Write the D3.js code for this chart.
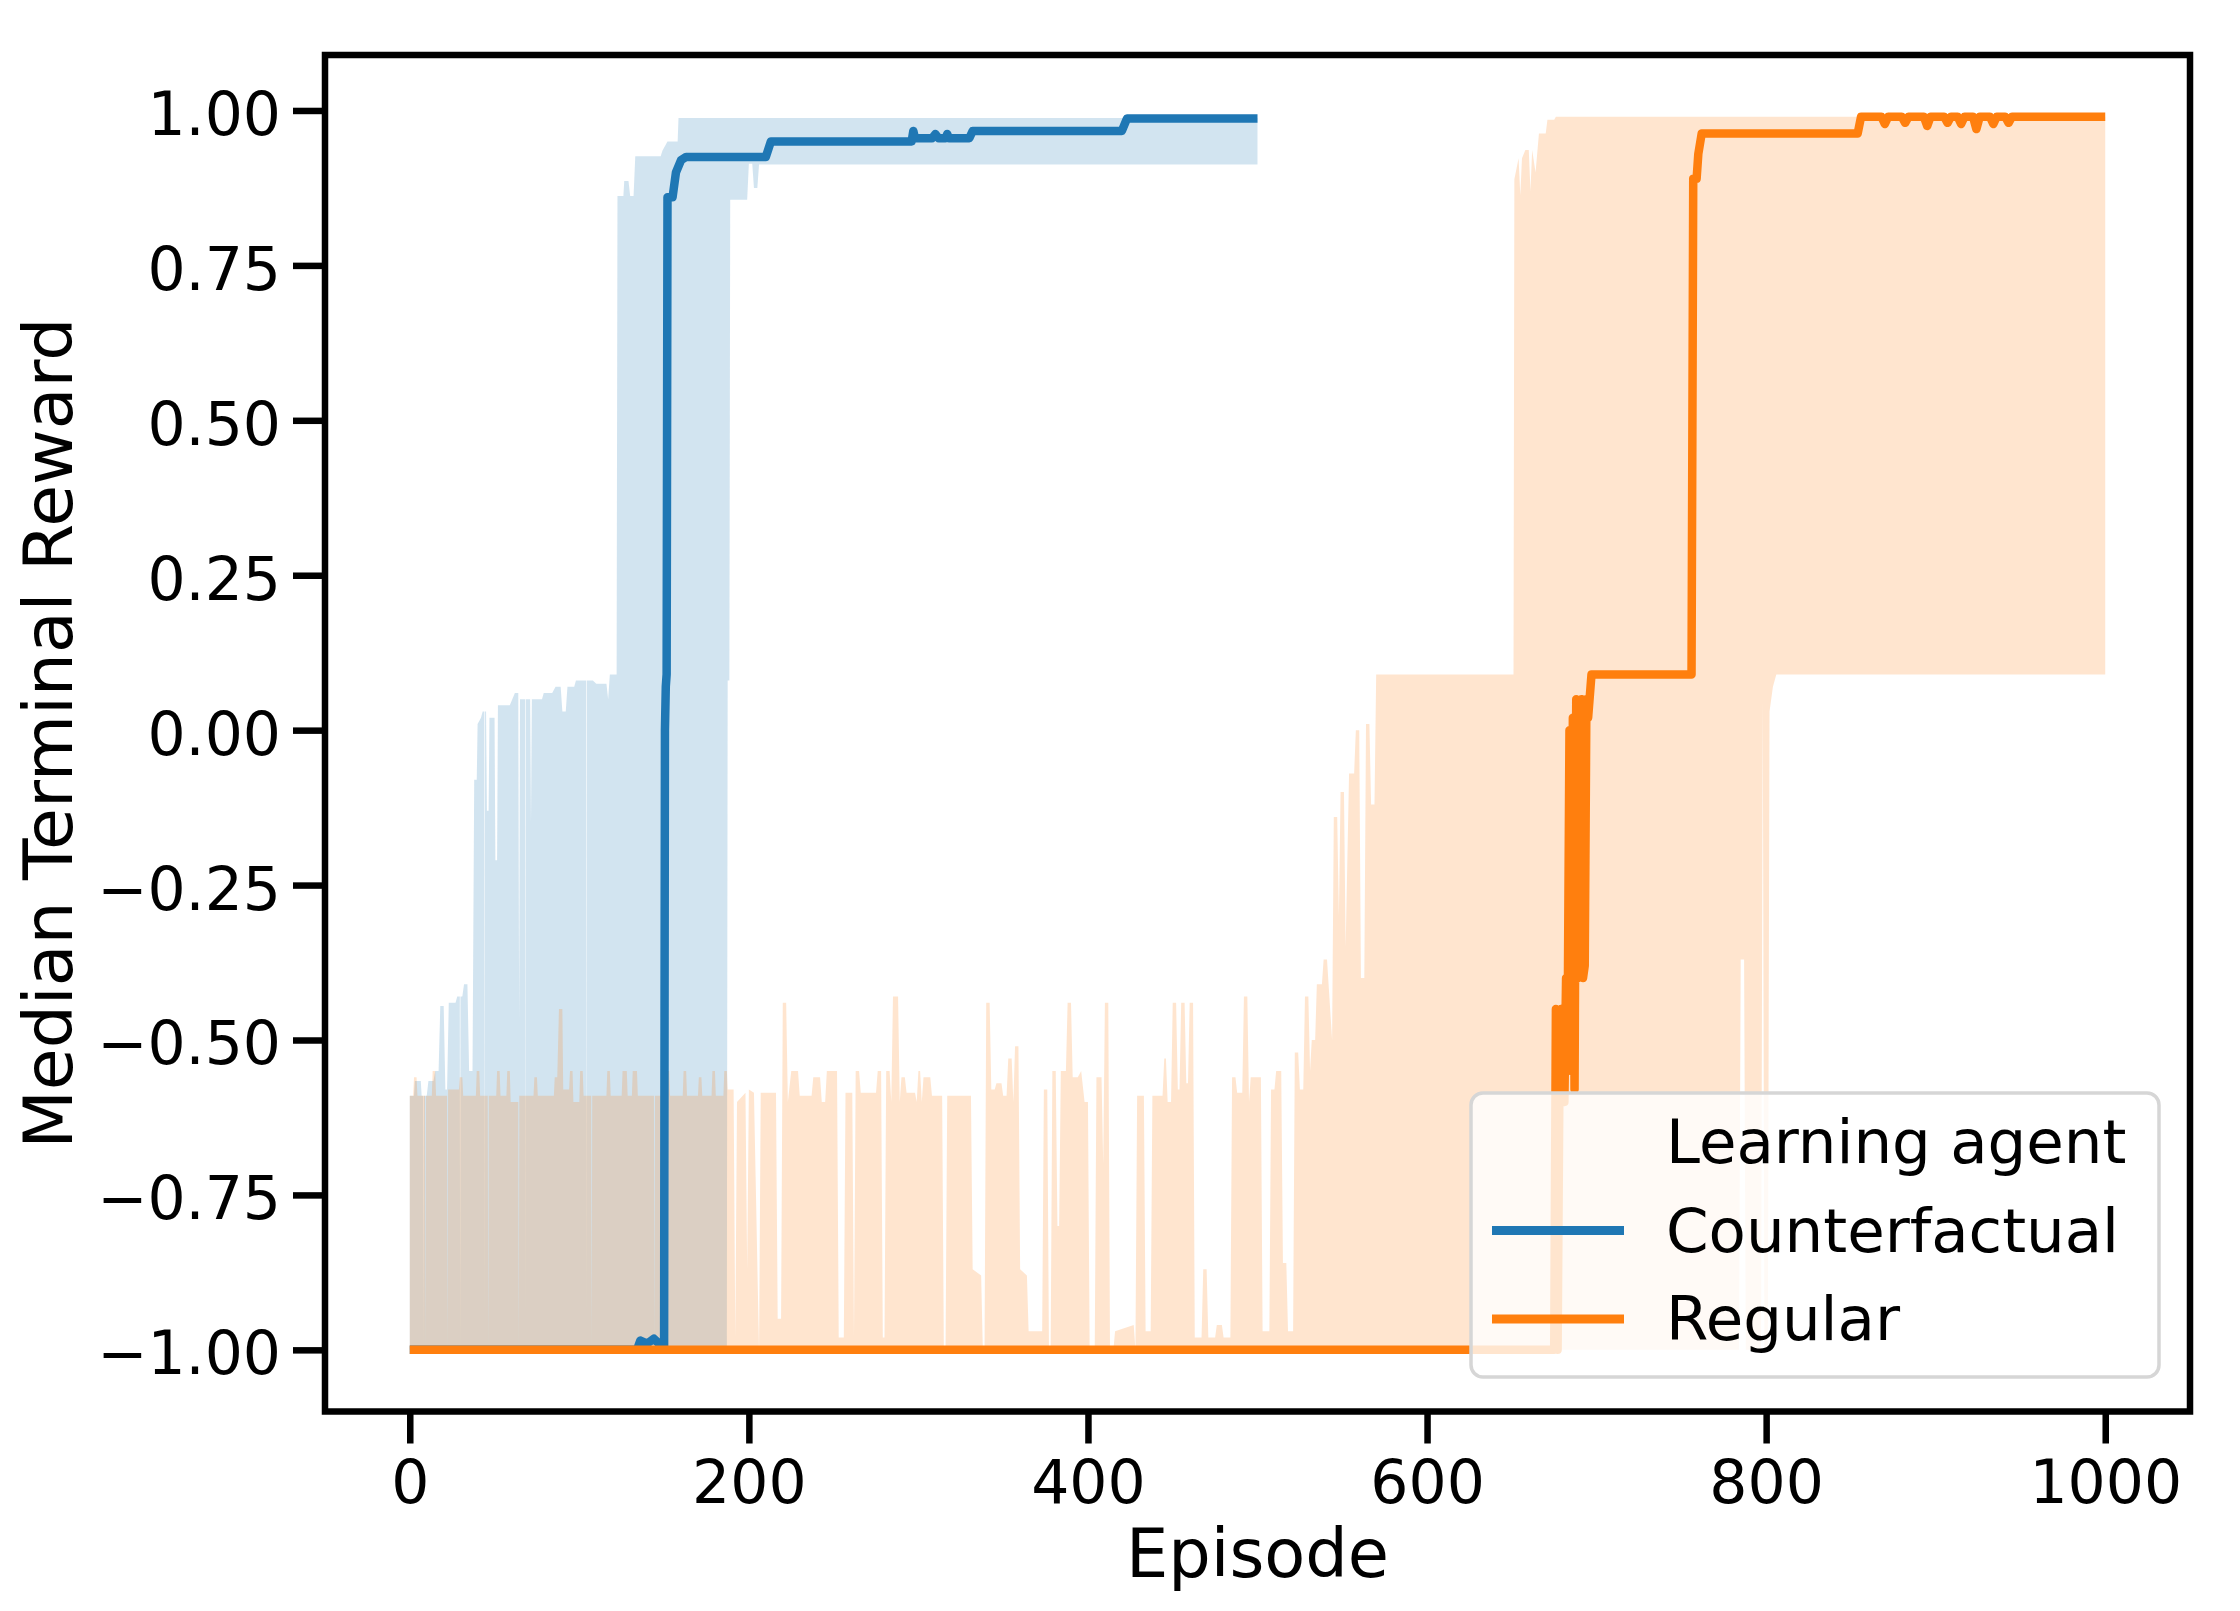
<!DOCTYPE html>
<html>
<head>
<meta charset="utf-8">
<script src="https://cdn.jsdelivr.net/npm/d3@7"></script>
<style>
  body { margin: 0; background: #fff; }
  svg { display: block; font-family: "DejaVu Sans", sans-serif; }
</style>
</head>
<body>
<div id="chart"></div>
<script>
const xTicks = [0, 200, 400, 600, 800, 1000];
const yTicks = [-1, -0.75, -0.5, -0.25, 0, 0.25, 0.5, 0.75, 1];
const legendLabels = ['Learning agent', 'Counterfactual', 'Regular'];
const seriesColors = ['#1f77b4', '#ff7f0e'];

// [episode, median terminal reward]
const cfMedian = [[0,-1],[134,-1],[136,-0.985],[140,-0.99],[144,-0.982],[147,-0.99],[149,-0.99],[150,-1],[150.5,0.0],[151,0.07],[151.5,0.09],[152,0.86],[155,0.86],[157,0.9],[160,0.92],[163,0.925],[210,0.925],[213,0.95],[296,0.95],[297,0.967],[298,0.955],[308,0.955],[310,0.962],[312,0.955],[316,0.955],[317,0.962],[318,0.955],[330,0.955],[332,0.967],[420,0.967],[423,0.987],[500,0.987]];
const cfUpper = [[0,-0.59],[2.5,-0.59],[3,-0.566],[6.5,-0.566],[7,-0.59],[7.8,-0.59],[8,-1],[8.2,-0.59],[10,-0.59],[11,-0.566],[14,-0.566],[15,-0.55],[17,-0.55],[18,-0.445],[20,-0.445],[21,-0.58],[22,-0.58],[23,-0.44],[27,-0.44],[28,-0.43],[29.5,-0.43],[29.7,-1],[29.9,-0.43],[31,-0.43],[32,-0.41],[34,-0.41],[35,-0.55],[37,-0.55],[38,-0.08],[39.5,-0.08],[40,0.01],[42,0.02],[43,0.03],[44,0.03],[44.2,-0.95],[44.4,0.03],[45,0.03],[45.5,-0.13],[46.5,-0.13],[47,0.02],[50,0.02],[50.5,-0.21],[51.5,-0.21],[52,0.04],[59,0.04],[62,0.06],[64,0.06],[64.5,-0.47],[65,0.05],[68,0.05],[68.2,-0.95],[68.4,0.05],[71,0.05],[71.5,-0.15],[72,0.05],[78,0.05],[79,0.06],[84,0.06],[86,0.07],[89,0.07],[90,0.03],[92,0.03],[93,0.07],[97,0.07],[98,0.08],[104,0.08],[104.2,-0.95],[104.4,0.08],[108,0.08],[110,0.075],[116,0.075],[117,0.05],[118,0.09],[122,0.09],[122.5,0.862],[126,0.862],[126.5,0.886],[129,0.886],[130,0.862],[132,0.862],[133,0.926],[148,0.926],[149,0.935],[152,0.95],[158,0.95],[158.5,0.988],[500,0.988]];
const cfLower = [[0,-1],[187,-1],[187.5,0.08],[188.5,0.08],[189,0.856],[199,0.856],[200,0.914],[202,0.914],[203,0.875],[205,0.875],[206,0.913],[500,0.913]];

const regMedian = [[0,-1],[675,-1],[676,-0.45],[677,-1],[678,-0.6],[679,-0.45],[680,-0.55],[681,-0.6],[682,-0.4],[683,-0.45],[684,0.0],[685,-0.55],[686,0.02],[687,-0.58],[688,0.05],[689,-0.4],[690,0.04],[691,0.05],[692,-0.4],[693,-0.38],[694,0.05],[695,0.02],[697,0.09],[756,0.09],[757,0.89],[759,0.89],[760,0.93],[762,0.963],[854,0.963],[856,0.99],[868,0.99],[870,0.978],[872,0.99],[880,0.99],[882,0.98],[884,0.99],[893,0.99],[895,0.975],[897,0.99],[905,0.99],[907,0.98],[909,0.99],[913,0.99],[915,0.978],[917,0.99],[922,0.99],[924,0.97],[926,0.99],[932,0.99],[934,0.978],[936,0.99],[941,0.99],[943,0.98],[945,0.99],[1000,0.99]];
const regUpper = [[0,-0.59],[2,-0.59],[2.5,-0.56],[4,-0.56],[4.5,-0.59],[9,-0.59],[9.3,-1],[9.6,-0.59],[13,-0.59],[13.5,-0.55],[15,-0.55],[15.5,-0.59],[22,-0.59],[22.3,-1],[22.6,-0.58],[29,-0.58],[29.5,-0.56],[31,-0.56],[31.5,-0.59],[39,-0.59],[39.5,-0.55],[41,-0.55],[41.5,-0.59],[46,-0.59],[46.3,-1],[46.6,-0.59],[51,-0.59],[51.5,-0.55],[53,-0.55],[53.5,-0.59],[57,-0.59],[57.5,-0.55],[59,-0.55],[59.5,-0.6],[64,-0.6],[64.3,-1],[64.6,-0.59],[73,-0.59],[73.5,-0.56],[75,-0.56],[75.5,-0.59],[85,-0.59],[85.5,-0.56],[87,-0.56],[88,-0.45],[90,-0.45],[90.5,-0.58],[94,-0.58],[94.5,-0.55],[96,-0.55],[96.5,-0.6],[100,-0.6],[100.5,-0.55],[102,-0.55],[102.5,-0.59],[107,-0.59],[107.3,-1],[107.6,-0.59],[116,-0.59],[116.5,-0.55],[118,-0.55],[118.5,-0.59],[125,-0.59],[125.5,-0.55],[128,-0.55],[128.5,-0.59],[131,-0.59],[131.5,-0.55],[134,-0.55],[134.5,-0.59],[144,-0.59],[144.3,-1],[144.6,-0.59],[149,-0.59],[149.5,-0.55],[153,-0.55],[153.5,-0.59],[161,-0.59],[161.5,-0.55],[163,-0.55],[163.5,-0.59],[170,-0.59],[170.5,-0.56],[172,-0.56],[172.5,-0.59],[178,-0.59],[178.5,-0.55],[180,-0.55],[180.5,-0.59],[185,-0.59],[185.5,-0.55],[187,-0.55],[187.5,-0.58],[191,-0.58],[192,-0.98],[193,-0.6],[198,-0.585],[199,-0.87],[200,-0.58],[203,-0.585],[206,-1],[207,-0.585],[216,-0.585],[217,-0.95],[219,-0.95],[220,-0.44],[222,-0.44],[223,-0.6],[225,-0.55],[229,-0.55],[230,-0.59],[237,-0.59],[238,-0.56],[242,-0.56],[243,-0.6],[245,-0.6],[246,-0.55],[252,-0.55],[253,-0.98],[256,-0.98],[257,-0.585],[261,-0.585],[262,-0.98],[263,-0.55],[265,-0.55],[266,-0.585],[275,-0.585],[276,-0.55],[278,-0.55],[279,-0.98],[280,-0.98],[281,-0.55],[283,-0.55],[284,-0.6],[285,-0.43],[288,-0.43],[289,-0.6],[290,-0.56],[292,-0.56],[293,-0.585],[298,-0.585],[299,-0.6],[300,-0.55],[301,-0.55],[302,-0.6],[303,-0.56],[307,-0.56],[308,-0.59],[314,-0.59],[315,-1],[316,-1],[317,-0.59],[331,-0.59],[332,-0.87],[337,-0.88],[338,-1],[339,-1],[340,-0.44],[342,-0.44],[343,-0.58],[345,-0.58],[346,-0.57],[349,-0.57],[350,-0.59],[352,-0.59],[353,-0.53],[355,-0.53],[356,-0.6],[357,-0.51],[359,-0.51],[360,-0.87],[364,-0.88],[365,-0.97],[373,-0.97],[374,-0.58],[376,-0.58],[377,-1],[378,-1],[379,-0.55],[381,-0.55],[382,-0.8],[383,-0.8],[384,-0.55],[387,-0.55],[388,-0.44],[390,-0.44],[391,-0.56],[394,-0.56],[396,-0.55],[398,-0.6],[400,-0.6],[401,-1],[404,-1],[405,-0.56],[408,-0.56],[409,-0.7],[410,-0.44],[412,-0.44],[413,-1],[415,-1],[416,-0.97],[427,-0.96],[428,-1],[429,-0.59],[433,-0.59],[434,-0.97],[437,-0.97],[438,-0.59],[444,-0.59],[445,-0.53],[446,-0.53],[447,-0.6],[449,-0.6],[450,-0.44],[452,-0.44],[453,-0.58],[454,-0.58],[455,-0.44],[457,-0.44],[458,-0.57],[459,-0.57],[460,-0.44],[462,-0.44],[463,-0.98],[467,-0.98],[468,-0.87],[470,-0.87],[471,-0.98],[475,-0.98],[476,-0.96],[479,-0.96],[480,-0.98],[484,-0.98],[485,-0.56],[487,-0.56],[488,-0.585],[491,-0.585],[492,-0.43],[494,-0.43],[495,-0.6],[496,-0.56],[502,-0.56],[503,-0.97],[507,-0.97],[508,-0.58],[510,-0.58],[511,-0.55],[514,-0.55],[515,-0.86],[517,-0.86],[518,-0.97],[521,-0.97],[522,-0.52],[524,-0.52],[525,-0.58],[527,-0.58],[528,-0.43],[530,-0.43],[531,-0.55],[532,-0.5],[534,-0.5],[535,-0.41],[538,-0.41],[539,-0.37],[541,-0.37],[544,-0.5],[545,-0.14],[547,-0.14],[548,-0.3],[549,-0.1],[551,-0.1],[552,-0.35],[554,-0.07],[557,-0.07],[558,0.0],[560,0.0],[561,-0.4],[563,-0.4],[564,0.01],[566,0.01],[567,-0.12],[569,-0.12],[570,0.09],[651,0.09],[651.5,0.889],[654,0.923],[655,0.863],[656,0.923],[658,0.936],[660,0.936],[661,0.87],[662,0.936],[664,0.9],[666,0.963],[670,0.963],[671,0.985],[675,0.985],[676,0.99],[1000,0.99]];
const regLower = [[0,-1],[784,-1],[785,-0.37],[787,-0.37],[788,-1],[797,-1],[798,0.05],[799,-1],[801,-1],[802,0.03],[804,0.07],[806,0.09],[1000,0.09]];

const width = 2240, height = 1611;
const plot = {left: 325, right: 2190, top: 55, bottom: 1411.5};

const svg = d3.select('#chart').append('svg')
  .attr('width', width)
  .attr('height', height);

const x = d3.scaleLinear().domain([-50, 1050]).range([plot.left, plot.right]);
const y = d3.scaleLinear().domain([-1.0995, 1.0895]).range([plot.bottom, plot.top]);

const line = d3.line().x(d => x(d[0])).y(d => y(d[1]));

function bandPath(upper, lower) {
  return line(upper.concat(lower.slice().reverse())) + 'Z';
}

const bands = [[cfUpper, cfLower], [regUpper, regLower]];
const medians = [cfMedian, regMedian];

svg.append('g')
  .selectAll('path')
  .data(bands)
  .enter().append('path')
  .attr('d', d => bandPath(d[0], d[1]))
  .attr('fill', (d, i) => seriesColors[i])
  .attr('fill-opacity', 0.2)
  .attr('stroke', 'none');

svg.append('g')
  .selectAll('path')
  .data(medians)
  .enter().append('path')
  .attr('d', line)
  .attr('fill', 'none')
  .attr('stroke', (d, i) => seriesColors[i])
  .attr('stroke-width', 8.5)
  .attr('stroke-linejoin', 'round');

const yAxis = svg.append('g')
  .attr('transform', `translate(${plot.left},0)`)
  .call(d3.axisLeft(y).tickValues(yTicks).tickFormat(d3.format('.2f')).tickSize(32).tickPadding(12));

const xAxis = svg.append('g')
  .attr('transform', `translate(0,${plot.bottom})`)
  .call(d3.axisBottom(x).tickValues(xTicks).tickFormat(d3.format('d')).tickSize(32));

[yAxis, xAxis].forEach(g => {
  g.attr('font-family', '"DejaVu Sans", sans-serif').attr('font-size', 60);
  g.select('.domain').remove();
  g.selectAll('.tick line').attr('stroke', '#000').attr('stroke-width', 6.5);
  g.selectAll('.tick text').attr('fill', '#000');
});
yAxis.selectAll('.tick text').attr('dy', '0.4em');
xAxis.selectAll('.tick text').attr('y', 91).attr('dy', 0);

svg.append('rect')
  .attr('x', plot.left)
  .attr('y', plot.top)
  .attr('width', plot.right - plot.left)
  .attr('height', plot.bottom - plot.top)
  .attr('fill', 'none')
  .attr('stroke', '#000')
  .attr('stroke-width', 6.5);

svg.append('text')
  .attr('x', (plot.left + plot.right) / 2)
  .attr('y', 1577)
  .attr('text-anchor', 'middle')
  .attr('font-size', 67)
  .text('Episode');

svg.append('text')
  .attr('transform', `translate(72,${(plot.top + plot.bottom) / 2}) rotate(-90)`)
  .attr('text-anchor', 'middle')
  .attr('font-size', 68)
  .text('Median Terminal Reward');

const legend = svg.append('g');
legend.append('rect')
  .attr('x', 1471)
  .attr('y', 1093)
  .attr('width', 688)
  .attr('height', 284)
  .attr('rx', 12)
  .attr('fill', '#fff')
  .attr('fill-opacity', 0.8)
  .attr('stroke', '#d6d6d6')
  .attr('stroke-width', 3.5);

const rows = legend.selectAll('g.row')
  .data(legendLabels)
  .enter().append('g')
  .attr('class', 'row')
  .attr('transform', (d, i) => `translate(0,${1163 + i * 88.5})`);

rows.filter((d, i) => i > 0).append('line')
  .attr('x1', 1492)
  .attr('x2', 1624)
  .attr('y1', -21)
  .attr('y2', -21)
  .attr('stroke', (d, i) => seriesColors[i])
  .attr('stroke-width', 9);

rows.append('text')
  .attr('x', 1666)
  .attr('y', 0)
  .attr('font-size', 61)
  .text(d => d);
</script>
</body>
</html>
